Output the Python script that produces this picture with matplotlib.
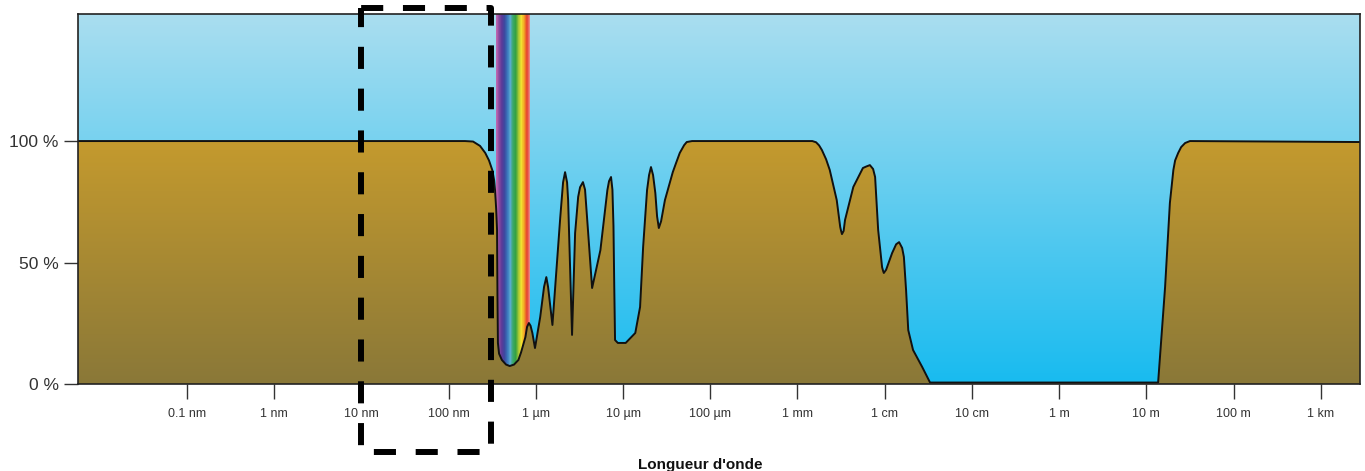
import numpy as np
import matplotlib.pyplot as plt
from matplotlib.colors import LinearSegmentedColormap

plt.rcParams['font.family'] = ['Liberation Sans', 'DejaVu Sans']

# log10 of wavelength in metres, and atmospheric opacity in %
log_lam = [-11.25, -6.812, -6.72, -6.64, -6.58, -6.537, -6.50, -6.479, -6.468, -6.455,
           -6.445, -6.44, -6.435, -6.422, -6.39, -6.342, -6.30, -6.25, -6.20, -6.17,
           -6.12, -6.101, -6.08, -6.061, -6.04, -6.01, -5.95, -5.906, -5.88, -5.86,
           -5.81, -5.72, -5.688, -5.665, -5.642, -5.63, -5.585, -5.55, -5.515, -5.493,
           -5.46, -5.436, -5.40, -5.355, -5.26, -5.18, -5.161, -5.138, -5.122, -5.110,
           -5.101, -5.092, -5.06, -4.97, -4.86, -4.805, -4.77, -4.725, -4.702, -4.68,
           -4.656, -4.63, -4.61, -4.59, -4.564, -4.52, -4.43, -4.392, -4.35, -4.30,
           -4.27, -4.209, -2.83, -2.787, -2.752, -2.72, -2.672, -2.63, -2.55, -2.51,
           -2.50, -2.49, -2.471, -2.455, -2.36, -2.25, -2.213, -2.17, -2.133, -2.11,
           -2.075, -2.03, -2.018, -2.01, -1.984, -1.915, -1.869, -1.835, -1.80, -1.78,
           -1.755, -1.73, -1.675, -1.57, -1.48, 1.135, 1.215, 1.27, 1.31, 1.33,
           1.365, 1.399, 1.445, 1.50, 3.45]
opacity = [100, 100, 99.8, 98, 95.1, 92, 88.1, 84, 79.8, 72,
           63.4, 35.8, 16.9, 12.5, 9.9, 8.0, 7.4, 8.0, 9.9, 13,
           19.3, 23.5, 25.1, 24, 21.0, 14.8, 27.6, 40, 44.0, 40,
           24.3, 68.7, 83, 87.2, 83, 75.7, 20.2, 62.1, 77.0, 81,
           83.1, 80, 62.1, 39.5, 55.1, 79.8, 83.5, 85.2, 80, 65,
           40, 18.1, 16.9, 16.9, 21.0, 31.7, 56.4, 79.8, 86, 89.3,
           86, 78.6, 69, 64.2, 67, 75.7, 87.2, 91, 95.1, 98.3,
           99.6, 100, 100, 99.5, 98.2, 96.3, 92.5, 88.1, 75.7, 64.6,
           63, 61.7, 63, 67.5, 81.1, 88.9, 89.5, 90.1, 88.5, 85.2,
           63.4, 48.1, 46.5, 45.7, 47, 53.9, 57.5, 58.4, 56, 52.3,
           38.7, 22.2, 14.0, 7.0, 0.6, 0.6, 39.9, 74.5, 88.1, 92,
           95.1, 97.5, 99.2, 100, 99.6]

tick_exp = list(range(-10, 4))
tick_labels = ['0.1 nm', '1 nm', '10 nm', '100 nm', '1 µm', '10 µm', '100 µm',
               '1 mm', '1 cm', '10 cm', '1 m', '10 m', '100 m', '1 km']

visible_range = (-6.456, -6.067)
rainbow = ['#c068b0', '#8a4aa0', '#5a3a98', '#3c4aa0', '#3a78bc', '#5aaad0',
           '#3aa86a', '#34a040', '#a8c834', '#f2e030', '#f3a224', '#e63c2c', '#e88a8a']

box_x = (1e-8, 10 ** -6.51)
box_y = (-28, 154.7)

ymax = 152.3
lam = 10 ** np.array(log_lam)

fig = plt.figure(figsize=(13.65, 4.71), dpi=100)
ax = fig.add_axes([78 / 1365, 1 - 384 / 471, 1282 / 1365, 370 / 471])
ax.set_xscale('log')
ax.set_xlim(10 ** -11.25, 10 ** 3.45)
ax.set_ylim(0, ymax)
ax.set_autoscale_on(False)

# sky background
sky = LinearSegmentedColormap.from_list('sky', ['#18bbef', '#aadef0'])
grad = np.linspace(0, 1, 256).reshape(-1, 1)
ax.imshow(grad, extent=[0, 1, 0, 1], transform=ax.transAxes, origin='lower',
          cmap=sky, aspect='auto', zorder=0)

# visible spectrum strip
rb = LinearSegmentedColormap.from_list('rb', rainbow)
xe = 10 ** np.linspace(visible_range[0], visible_range[1], 121)
ax.pcolormesh(xe, [0, ymax], np.arange(120).reshape(1, -1), cmap=rb,
              shading='flat', zorder=1)

# opacity fill with vertical gradient
poly = ax.fill_between(lam, 0, opacity, facecolor='none', edgecolor='none')
earth = LinearSegmentedColormap.from_list('earth', ['#8a7838', '#c49a2e'])
im = ax.imshow(grad, extent=[0, 1, 0, 100 / ymax], transform=ax.transAxes,
               origin='lower', cmap=earth, aspect='auto', zorder=2)
im.set_clip_path(poly.get_paths()[0], ax.transData)
ax.plot(lam, opacity, color='#111111', lw=1.4, zorder=3, solid_joinstyle='round')

# dashed box around the UV range
ax.plot([box_x[0], box_x[0], box_x[1], box_x[1], box_x[0]],
        [box_y[1], box_y[0], box_y[0], box_y[1], box_y[1]],
        color='black', lw=4.3, ls=(0.5, (3.7, 3.3)), clip_on=False, zorder=5)

ax.set_xticks([10.0 ** e for e in tick_exp])
ax.set_xticklabels(tick_labels, fontsize=9, color='#333333')
ax.minorticks_off()
ax.set_yticks([0, 50, 100])
ax.set_yticklabels(['0 %', '50 %', '100 %'], fontsize=12.5, color='#333333')
ax.tick_params(axis='x', length=11, width=1, pad=6, color='#333333')
ax.tick_params(axis='y', length=10, width=1, pad=4, color='#333333')
for s in ax.spines.values():
    s.set_linewidth(1.2)
    s.set_color('#222222')
    s.set_zorder(4)

ax.set_xlabel("Longueur d'onde", fontsize=11, fontweight='bold', color='#111111')
ax.xaxis.set_label_coords((700 - 78) / 1282, -0.2)

fig.savefig('out.png', dpi=100)
